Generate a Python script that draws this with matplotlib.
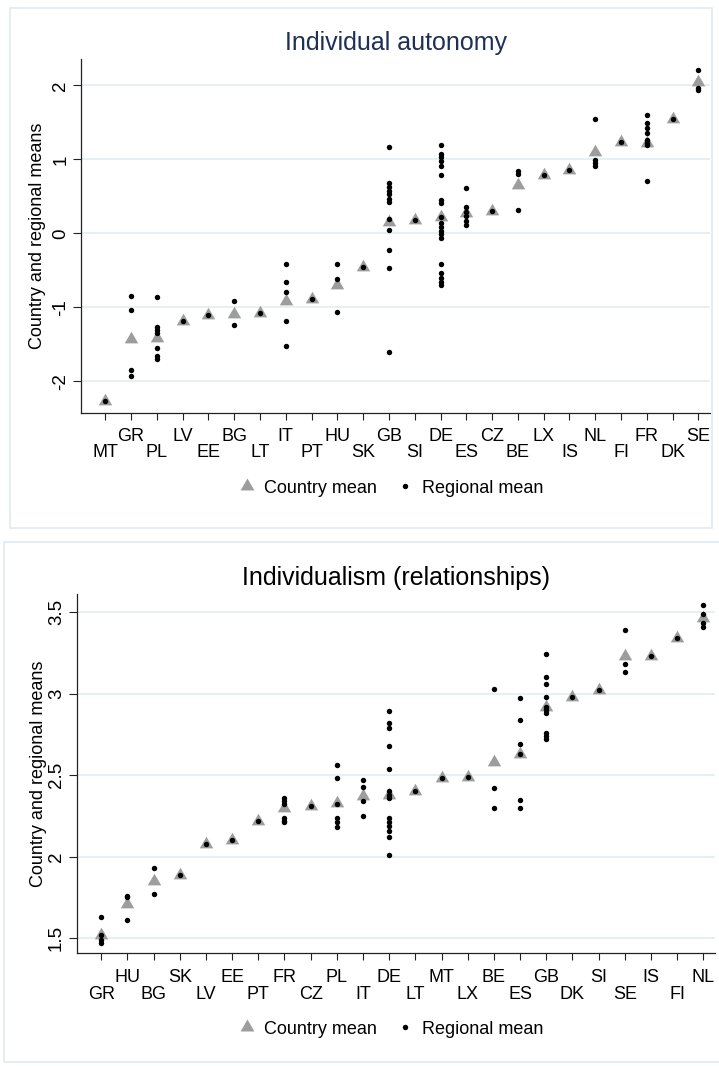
import matplotlib.pyplot as plt
from matplotlib.patches import Rectangle
from matplotlib.lines import Line2D

plt.rcParams['font.family'] = ['Liberation Sans', 'DejaVu Sans']

# ---- Individual autonomy ----
auto_countries = ['MT', 'GR', 'PL', 'LV', 'EE', 'BG', 'LT', 'IT', 'PT', 'HU', 'SK', 'GB',
                  'SI', 'DE', 'ES', 'CZ', 'BE', 'LX', 'IS', 'NL', 'FI', 'FR', 'DK', 'SE']
auto_country_mean = [-2.26, -1.42, -1.41, -1.18, -1.10, -1.09, -1.07, -0.92, -0.89, -0.70,
                     -0.46, 0.16, 0.18, 0.22, 0.27, 0.30, 0.65, 0.79, 0.85, 1.10,
                     1.24, 1.22, 1.55, 2.04]
auto_regional_mean = [
    [-2.26],
    [-0.84, -1.03, -1.84, -1.92],
    [-0.86, -1.26, -1.31, -1.34, -1.55, -1.66, -1.70],
    [-1.18],
    [-1.10],
    [-0.92, -1.24],
    [-1.07],
    [-0.42, -0.66, -0.79, -1.18, -1.52],
    [-0.89],
    [-0.41, -0.62, -1.06],
    [-0.46],
    [1.17, 0.68, 0.62, 0.57, 0.53, 0.47, 0.43, 0.19, 0.05, -0.22, -0.47, -1.60],
    [0.18],
    [1.19, 1.07, 1.03, 0.98, 0.91, 0.79, 0.45, 0.41, 0.22, 0.14, 0.08, 0.03, -0.01,
     -0.06, -0.41, -0.54, -0.60, -0.65, -0.70],
    [0.61, 0.35, 0.29, 0.23, 0.17, 0.11],
    [0.30],
    [0.84, 0.80, 0.32],
    [0.79],
    [0.85],
    [1.55, 0.99, 0.95, 0.91],
    [1.24],
    [1.60, 1.49, 1.42, 1.36, 1.26, 1.22, 1.19, 0.71],
    [1.55],
    [2.21, 1.97, 1.94],
]
auto_yticks = [-2, -1, 0, 1, 2]
auto_yticklabels = ['-2', '-1', '0', '1', '2']

# ---- Individualism (relationships) ----
rel_countries = ['GR', 'HU', 'BG', 'SK', 'LV', 'EE', 'PT', 'FR', 'CZ', 'PL', 'IT', 'DE',
                 'LT', 'MT', 'LX', 'BE', 'ES', 'GB', 'DK', 'SI', 'SE', 'IS', 'FI', 'NL']
rel_country_mean = [1.52, 1.71, 1.85, 1.89, 2.08, 2.10, 2.22, 2.30, 2.31, 2.33, 2.37, 2.38,
                    2.40, 2.48, 2.49, 2.58, 2.63, 2.92, 2.98, 3.02, 3.23, 3.23, 3.34, 3.46]
rel_regional_mean = [
    [1.63, 1.52, 1.49, 1.47],
    [1.76, 1.75, 1.61],
    [1.93, 1.77],
    [1.89],
    [2.08],
    [2.10],
    [2.22],
    [2.36, 2.34, 2.32, 2.24, 2.22, 2.21],
    [2.31],
    [2.56, 2.48, 2.32, 2.24, 2.21, 2.18],
    [2.47, 2.43, 2.34, 2.25],
    [2.89, 2.82, 2.79, 2.68, 2.54, 2.40, 2.38, 2.36, 2.24, 2.21, 2.19, 2.16, 2.12, 2.01],
    [2.40],
    [2.48],
    [2.49],
    [3.03, 2.42, 2.30],
    [2.97, 2.84, 2.69, 2.63, 2.35, 2.30],
    [3.24, 3.10, 3.06, 2.98, 2.92, 2.90, 2.88, 2.76, 2.74, 2.72],
    [2.98],
    [3.02],
    [3.39, 3.18, 3.13],
    [3.23],
    [3.34],
    [3.54, 3.49, 3.43, 3.41],
]
rel_yticks = [1.5, 2, 2.5, 3, 3.5]
rel_yticklabels = ['1.5', '2', '2.5', '3', '3.5']

W, H = 719, 1066
fig = plt.figure(figsize=(W / 100, H / 100), dpi=100)

TRI = [(-1, -0.577), (1, -0.577), (0, 1.155)]
GREY = '#9d9d9d'
GRID = '#e5eef1'
FRAME = '#e2eaee'
SPINE = '#222222'


def px_rect(x0, y0, x1, y1):
    # pixel box (top-left origin) -> figure fraction [left, bottom, width, height]
    return [x0 / W, 1 - y1 / H, (x1 - x0) / W, (y1 - y0) / H]


def panel(frame_px, axes_px, countries, cmean, regions, ylim, yticks, yticklabels,
          title, title_color, ylabel_x, pads):
    l, b, w, h = px_rect(*frame_px)
    fig.add_artist(Rectangle((l, b), w, h, transform=fig.transFigure,
                             facecolor='none', edgecolor=FRAME, lw=1.2))
    ax = fig.add_axes(px_rect(*axes_px))
    pos = list(range(1, len(countries) + 1))

    ax.plot(pos, cmean, ls='none', marker=TRI, ms=11.2, color=GREY, mew=0, zorder=3)
    rx, ry = [], []
    for p, vals in zip(pos, regions):
        for v in vals:
            rx.append(p)
            ry.append(v)
    ax.plot(rx, ry, ls='none', marker='o', ms=3.9, color='black', mew=0, zorder=4)

    ax.set_xlim(0.06, len(countries) + 0.45)
    ax.set_ylim(*ylim)

    # country codes staggered on two rows
    ax.set_xticks(pos[1::2], countries[1::2])
    ax.set_xticks(pos[0::2], countries[0::2], minor=True)
    ax.tick_params(axis='x', which='both', length=4.8, width=0.8, color=SPINE,
                   labelsize=13)
    ax.tick_params(axis='x', which='major', pad=pads[0])
    ax.tick_params(axis='x', which='minor', pad=pads[1])

    ax.set_yticks(yticks, yticklabels)
    ax.tick_params(axis='y', length=5.5, width=0.8, color=SPINE, labelsize=13.5,
                   labelrotation=90, pad=3)
    for t in ax.get_yticklabels():
        t.set_va('center')

    ax.yaxis.grid(True, color=GRID, lw=1.3)
    ax.set_axisbelow(True)
    for s in ['top', 'right']:
        ax.spines[s].set_visible(False)
    for s in ['left', 'bottom']:
        ax.spines[s].set_color(SPINE)
        ax.spines[s].set_linewidth(0.9)

    ax.set_ylabel('Country and regional means', fontsize=13)
    ax.yaxis.set_label_coords(ylabel_x, 0.5)
    ax.text(0.5, 1.024, title, transform=ax.transAxes, ha='center', va='baseline',
            fontsize=18, color=title_color)

    handles = [
        Line2D([], [], ls='none', marker=TRI, ms=11.5, color=GREY, mew=0,
               label='Country mean'),
        Line2D([], [], ls='none', marker='o', ms=3.9, color='black', mew=0,
               label='Regional mean'),
    ]
    ax.legend(handles=handles, loc='center', bbox_to_anchor=(0.493, -0.211), ncol=2,
              frameon=False, fontsize=13, handlelength=0.9, handletextpad=0.5,
              columnspacing=1.1, borderpad=0)
    return ax


panel((10, 8, 712, 528), (81, 59, 710, 413.3), auto_countries, auto_country_mean,
      auto_regional_mean, (-2.43, 2.355), auto_yticks, auto_yticklabels,
      'Individual autonomy', '#1f2f55', -0.055, (6, 17.5))
panel((4, 542, 722, 1062), (76.7, 594, 715, 953.3), rel_countries, rel_country_mean,
      rel_regional_mean, (1.408, 3.61), rel_yticks, rel_yticklabels,
      'Individualism (relationships)', 'black', -0.047, (6.5, 18.5))

fig.savefig('out.png', dpi=100, facecolor='white')
